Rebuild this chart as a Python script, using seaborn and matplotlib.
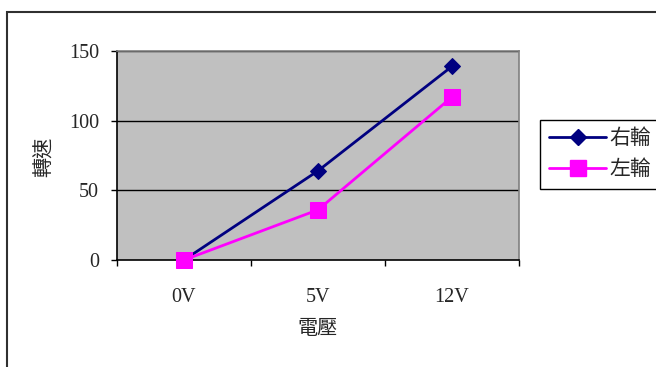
import matplotlib
matplotlib.use("Agg")
import matplotlib.pyplot as plt
import seaborn as sns
import pandas as pd
from matplotlib.patches import Rectangle
from matplotlib.lines import Line2D

# Data
voltages = ["0V", "5V", "12V"]
right_wheel = [0, 64, 139]
left_wheel = [0, 36, 117]
series_names = ["右輪", "左輪"]
y_ticks = [0, 50, 100, 150]

sns.set_theme(style="white")
plt.rcParams["font.family"] = ["Liberation Serif", "Noto Sans CJK TC", "DejaVu Sans"]

df = pd.DataFrame({
    "電壓": voltages * 2,
    "轉速": right_wheel + left_wheel,
    "series": [series_names[0]] * 3 + [series_names[1]] * 3,
})

fig = plt.figure(figsize=(6.56, 3.67), dpi=100)
W, H = 656, 367
ax = fig.add_axes([117 / W, 1 - 260 / H, (519 - 117) / W, (260 - 51) / H])
ax.set_facecolor("#C0C0C0")

colors = {series_names[0]: "#000080", series_names[1]: "#FF00FF"}
markers = {series_names[0]: "D", series_names[1]: "s"}
sizes = {series_names[0]: 8.5, series_names[1]: 11}

for name in series_names:
    sub = df[df["series"] == name]
    sns.lineplot(data=sub, x="電壓", y="轉速", ax=ax, color=colors[name],
                 marker=markers[name], markersize=sizes[name],
                 markeredgecolor=colors[name], linewidth=2, sort=False,
                 label=name, legend=False, zorder=3, clip_on=False)

ax.set_xlim(-0.5, 2.5)
ax.set_ylim(0, 150)
ax.set_yticks(y_ticks)
ax.set_xticks(range(len(voltages)))
ax.set_xticklabels(voltages)
ax.set_xticks([-0.5, 0.5, 1.5, 2.5], minor=True)
ax.tick_params(axis="x", which="major", length=0, pad=20, labelsize=14.5)
ax.tick_params(axis="x", which="minor", length=4, width=1, color="black", direction="out")
ax.tick_params(axis="y", which="major", length=4, width=1, color="black",
               direction="out", pad=9, labelsize=14.5)
ax.tick_params(bottom=True, left=True, which="both")

for y in y_ticks[1:]:
    ax.axhline(y, color="black", linewidth=1, zorder=1)

for side in ["left", "bottom"]:
    ax.spines[side].set_color("black")
    ax.spines[side].set_linewidth(1.2)
for side in ["top", "right"]:
    ax.spines[side].set_color("#808080")
    ax.spines[side].set_linewidth(1.2)

ax.set_xlabel("")
ax.set_ylabel("")
fig.text(318 / W, 1 - 329 / H, "電壓", ha="center", va="center", fontsize=14.5)
fig.text(45 / W, 1 - 157 / H, "轉速", ha="center", va="center", rotation=90, fontsize=14.5)

handles = [
    Line2D([], [], color=colors[n], marker=markers[n], markersize=sizes[n],
           markeredgecolor=colors[n], linewidth=2)
    for n in series_names
]
leg = fig.legend(handles, series_names, loc="upper left",
                 bbox_to_anchor=(540 / W, 1 - 120 / H), frameon=True,
                 fancybox=False, framealpha=1, edgecolor="black",
                 fontsize=15, handlelength=2.7, handletextpad=0.2,
                 borderpad=0.45, labelspacing=0.55, borderaxespad=0)
leg.get_frame().set_linewidth(1)

# Outer chart border
fig.patches.append(Rectangle((7 / W, -0.1), 1.2, 1 - 12 / H + 0.1,
                             transform=fig.transFigure, fill=False,
                             edgecolor="#303030", linewidth=1.5))

fig.savefig("out.png", dpi=100)
